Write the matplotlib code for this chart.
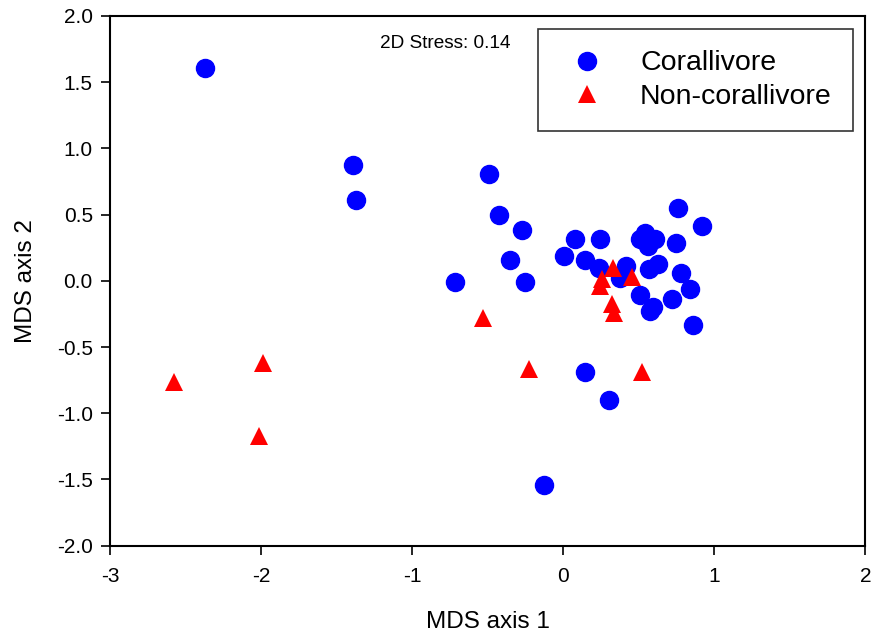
import matplotlib.pyplot as plt

plt.rcParams['font.family'] = ['Liberation Sans', 'DejaVu Sans']
plt.rcParams['axes.unicode_minus'] = False

# MDS coordinates
coral_x = [-2.375, -1.391, -1.371, -0.49, -0.426, -0.274, -0.351, -0.717, -0.25,
           0.079, 0.243, 0.002, 0.146, 0.238, 0.413, 0.373, 0.759, 0.922,
           0.543, 0.51, 0.609, 0.561, 0.746, 0.565, 0.625, 0.779, 0.839,
           0.51, 0.722, 0.596, 0.576, 0.861, 0.146, 0.302, -0.126]
coral_y = [1.608, 0.877, 0.613, 0.81, 0.498, 0.382, 0.159, -0.007, -0.01,
           0.317, 0.317, 0.184, 0.154, 0.096, 0.114, 0.023, 0.553, 0.412,
           0.362, 0.312, 0.312, 0.262, 0.287, 0.091, 0.129, 0.058, -0.065,
           -0.105, -0.135, -0.198, -0.23, -0.336, -0.688, -0.9, -1.54]

noncoral_x = [-2.576, -1.987, -2.013, -0.534, -0.225, 0.525,
              0.329, 0.457, 0.256, 0.245, 0.322, 0.338]
noncoral_y = [-0.765, -0.622, -1.173, -0.278, -0.668, -0.688,
              0.099, 0.031, 0.011, -0.04, -0.178, -0.24]

fig = plt.figure(figsize=(8.74, 6.36), dpi=100)
ax = fig.add_axes([0.126, 0.142, 0.864, 0.833])

ax.plot(coral_x, coral_y, 'o', color='#0000ff', markersize=13, label='Corallivore')
ax.plot(noncoral_x, noncoral_y, '^', color='#ff0000', markersize=13,
        markeredgewidth=0, label='Non-corallivore')

ax.set_xlim(-3, 2)
ax.set_ylim(-2, 2)
ax.set_xticks([-3, -2, -1, 0, 1, 2])
ax.set_yticks([-2.0, -1.5, -1.0, -0.5, 0.0, 0.5, 1.0, 1.5, 2.0])
ax.set_yticklabels(['-2.0', '-1.5', '-1.0', '-0.5', '0.0', '0.5', '1.0', '1.5', '2.0'])
ax.tick_params(direction='out', length=6.5, width=1.2, labelsize=15)
ax.tick_params(axis='x', pad=9)
ax.tick_params(axis='y', pad=6)
for s in ax.spines.values():
    s.set_linewidth(1.5)

ax.set_xlabel('MDS axis 1', fontsize=17.5, labelpad=18)
ax.set_ylabel('MDS axis 2', fontsize=17.5, labelpad=14)

ax.text(-1.21, 1.79, '2D Stress: 0.14', fontsize=13.7, va='center', ha='left')

leg = ax.legend(loc='upper right', bbox_to_anchor=(0.984, 0.975), fontsize=20.5,
                frameon=True, fancybox=False, edgecolor='black',
                borderpad=0.75, handletextpad=0.85, labelspacing=0.25,
                borderaxespad=0, handlelength=2.0)
leg.get_frame().set_linewidth(1.2)

fig.savefig('out.png', dpi=100)
